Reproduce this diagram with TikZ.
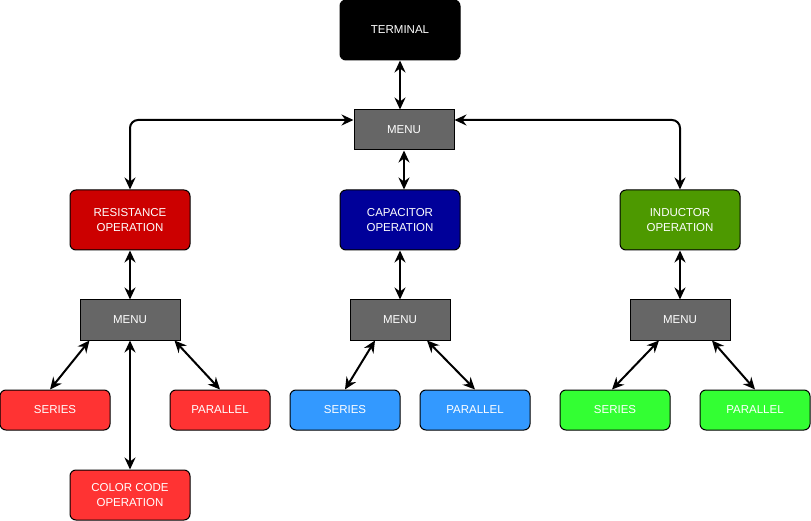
\documentclass[tikz,border=0pt]{standalone}
\usepackage{fontspec}
\setmainfont{Liberation Sans}
\usetikzlibrary{arrows.meta, positioning}
\definecolor{menugray}{HTML}{666666}
\definecolor{resred}{HTML}{CC0000}
\definecolor{capblue}{HTML}{000099}
\definecolor{indgreen}{HTML}{4D9900}
\definecolor{leafred}{HTML}{FF3333}
\definecolor{leafblue}{HTML}{3399FF}
\definecolor{leafgreen}{HTML}{33FF33}
\begin{document}
\begin{tikzpicture}[x=1pt, y=-1pt, on grid,
    font=\fontsize{11.5}{14.8}\selectfont,
    block/.style={draw, line width=1pt, rounded corners=6pt, text=white, align=center, inner sep=0pt},
    opbox/.style={block, minimum width=120pt, minimum height=60pt},
    leafbox/.style={block, minimum width=110pt, minimum height=40pt},
    menubox/.style={draw, line width=1pt, fill=menugray, text=white, minimum width=100pt, minimum height=40pt, inner sep=0pt},
    link/.style={{Stealth[length=12pt, width=11pt, inset=4pt]}-{Stealth[length=12pt, width=11pt, inset=4pt]}, line width=2pt}]
    \useasboundingbox (0,0) rectangle (811,521);
    \node[opbox, fill=black] (terminal) at (400,30) {TERMINAL};
    \node[menubox] (menu) [below right=100pt and 4pt of terminal] {MENU};
    \node[opbox, fill=capblue] (capop) [below left=90pt and 4pt of menu] {CAPACITOR\\OPERATION};
    \node[opbox, fill=resred] (resop) [left=270pt of capop] {RESISTANCE\\OPERATION};
    \node[opbox, fill=indgreen] (indop) [right=280pt of capop] {INDUCTOR\\OPERATION};
    \node[menubox] (resmenu) [below=100pt of resop] {MENU};
    \node[menubox] (capmenu) [below=100pt of capop] {MENU};
    \node[menubox] (indmenu) [below=100pt of indop] {MENU};
    \node[leafbox, fill=leafred] (resseries) [below left=90pt and 75pt of resmenu] {SERIES};
    \node[leafbox, fill=leafred, minimum width=100pt] (respar) [below right=90pt and 90pt of resmenu] {PARALLEL};
    \node[block, fill=leafred, minimum width=120pt, minimum height=50pt] (rescolor) [below=175pt of resmenu] {COLOR CODE\\OPERATION};
    \node[leafbox, fill=leafblue] (capseries) [below left=90pt and 55pt of capmenu] {SERIES};
    \node[leafbox, fill=leafblue] (cappar) [below right=90pt and 75pt of capmenu] {PARALLEL};
    \node[leafbox, fill=leafgreen] (indseries) [below left=90pt and 65pt of indmenu] {SERIES};
    \node[leafbox, fill=leafgreen] (indpar) [below right=90pt and 75pt of indmenu] {PARALLEL};
    % top level
    \draw[link] (terminal) -- (terminal |- menu.north);
    \draw[link] (menu) -- (menu |- capop.north);
    \draw[link, rounded corners=8pt] ([yshift=10pt]menu.west) -| (resop);
    \draw[link, rounded corners=8pt] ([yshift=10pt]menu.east) -| (indop);
    % operation menus
    \draw[link] (resop) -- (resmenu);
    \draw[link] (capop) -- (capmenu);
    \draw[link] (indop) -- (indmenu);
    \draw[link] ([xshift=10pt]resmenu.south west) -- ([xshift=-5pt]resseries.north);
    \draw[link] ([xshift=-6pt]resmenu.south east) -- (respar.north);
    \draw[link] (resmenu) -- (rescolor);
    \draw[link] ([xshift=-25pt]capmenu.south) -- (capseries.north);
    \draw[link] ([xshift=27pt]capmenu.south) -- (cappar.north);
    \draw[link] ([xshift=-21pt]indmenu.south) -- ([xshift=-3pt]indseries.north);
    \draw[link] ([xshift=32pt]indmenu.south) -- (indpar.north);
\end{tikzpicture}
\end{document}
